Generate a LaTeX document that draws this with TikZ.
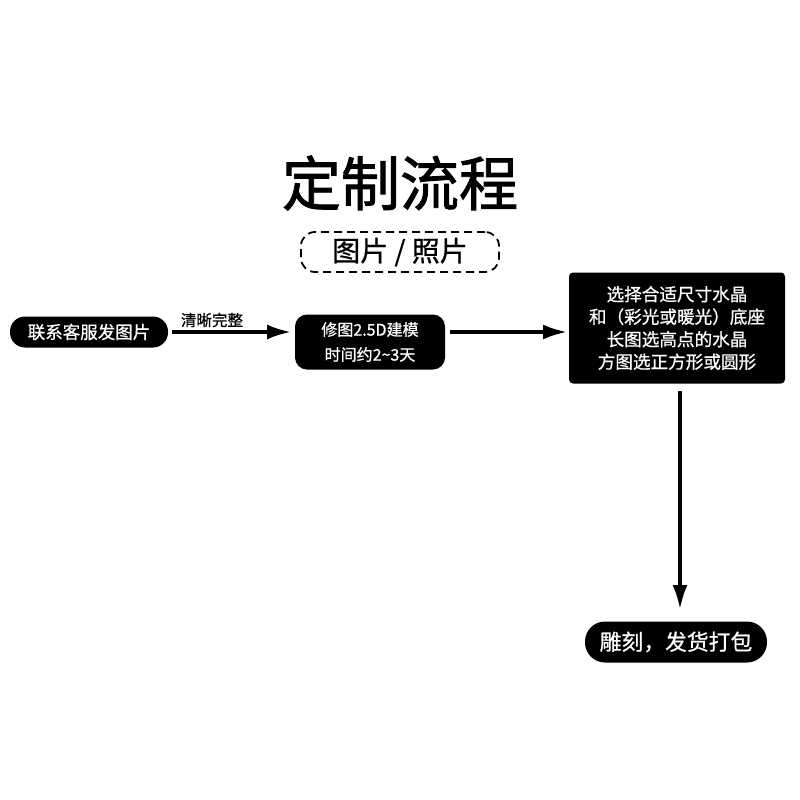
\documentclass[tikz,border=0pt]{standalone}
\usepackage{fontspec}
\newfontfamily\cjk{Noto Sans CJK SC}[FakeBold=0.8]
\newfontfamily\cjkt{Noto Sans CJK SC}[FakeBold=1.5]
\usetikzlibrary{arrows.meta}
\begin{document}
\begin{tikzpicture}[x=1pt,y=-1pt,
  pill/.style={fill=black,text=white,rounded corners=#1,inner sep=0pt,font=\cjk},
  flow/.style={line width=3.2pt,-{Latex[length=24pt,width=15pt]}},
]
\useasboundingbox (0,0) rectangle (800,800);
\node[font=\cjkt\fontsize{59}{64}\selectfont] (title) at (400,183) {定制流程};
\node[draw,dash pattern=on 8pt off 5pt,line width=1.8pt,rounded corners=14pt,minimum width=198pt,minimum height=40pt,font=\cjk\fontsize{28}{32}\selectfont] (sub) at (400,252) {图片 / 照片};
\node[pill=15pt,minimum width=158pt,minimum height=31pt,font=\cjk\fontsize{17.5}{20}\selectfont] (n1) at (89,332) {联系客服发图片};
\node[pill=12pt,minimum width=150pt,minimum height=55pt,align=center,font=\cjk\fontsize{16}{25}\selectfont] (n2) at (370,342) {修图2.5D建模\\时间约2\char`~3天};
\node[pill=4pt,minimum width=216pt,minimum height=111pt,align=center,font=\cjk\fontsize{17.6}{22.5}\selectfont] (n3) at (677,328) {选择合适尺寸水晶\\和（彩光或暖光）底座\\长图选高点的水晶\\方图选正方形或圆形};
\node[pill=20pt,minimum width=182pt,minimum height=41pt,font=\cjk\fontsize{21.8}{24}\selectfont] (n4) at (676,642) {雕刻，发货打包};
\coordinate (a1s) at (172,332);
\coordinate (a1e) at (291,332);
\coordinate (a2s) at (450,332);
\coordinate (a2e) at (567,332);
\coordinate (a3s) at (680,391);
\coordinate (a3e) at (680,609);
\draw[flow] (a1s) -- (a1e);
\node[font=\cjk\fontsize{15.5}{18}\selectfont] (lbl) at (212,320) {清晰完整};
\draw[flow] (a2s) -- (a2e);
\draw[flow] (a3s) -- (a3e);
\end{tikzpicture}
\end{document}
